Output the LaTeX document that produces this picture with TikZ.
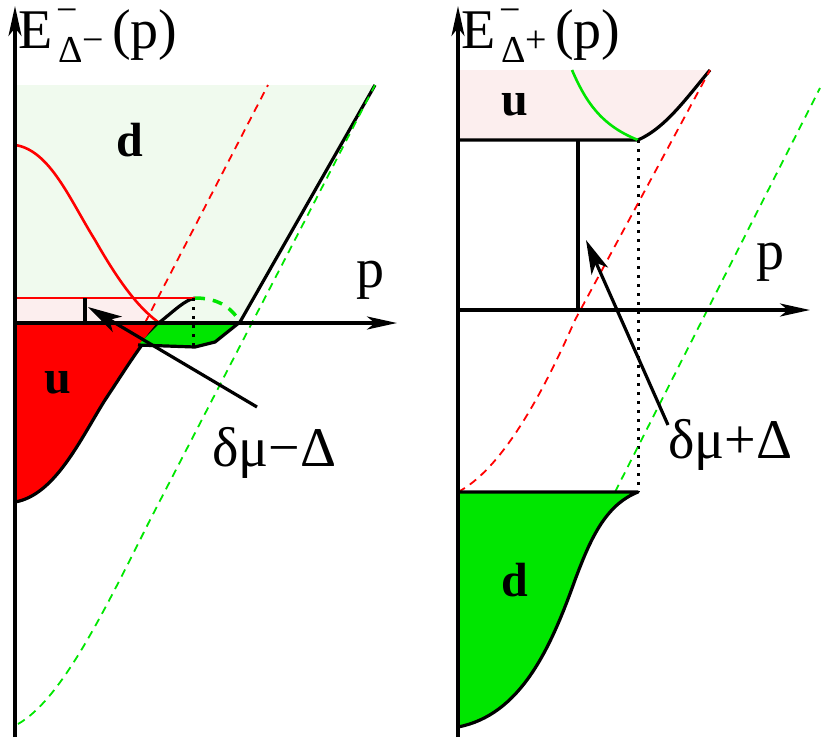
\documentclass[tikz,border=0pt]{standalone}
\usepackage{fontspec}
\setmainfont{Liberation Serif}
\usetikzlibrary{arrows.meta}
\definecolor{lgreen}{RGB}{240,250,238}
\definecolor{lpink}{RGB}{252,238,238}
\definecolor{gr}{RGB}{0,230,0}
\begin{document}
\begin{tikzpicture}[x=1pt,y=-1pt,line join=round,
  ax/.style={line width=3.5pt,-{Stealth[length=30pt,width=13pt,inset=8pt]}},
  bl/.style={line width=3.2pt},
  lab/.style={font=\rmfamily\fontsize{56}{60}\selectfont,inner sep=0},
  sub/.style={font=\rmfamily\fontsize{38}{40}\selectfont,inner sep=0},
  bold/.style={font=\rmfamily\bfseries\fontsize{48}{52}\selectfont,inner sep=0},
  pt/.style={line width=3.2pt,-{Stealth[length=34pt,width=18pt,inset=9pt]}}]
\useasboundingbox (0,0) rectangle (822,737);
% ---------- left panel
\fill[lgreen] (15,85) -- (375,85) -- (240,322) -- (15,322) -- cycle;
\fill[lpink] (15,298) rectangle (150,322);
\fill[red] (15,323) -- (160,323) .. controls (140,345) and (125,370) .. (105,400) .. controls (80,440) and (55,495) .. (15,502) -- cycle;
\draw[bl] (15,502) .. controls (55,495) and (80,440) .. (105,400) .. controls (125,370) and (140,345) .. (160,322) .. controls (175,310) and (185,300) .. (195,298);
\fill[gr] (138,345) -- (160,323) -- (240,323) -- (215,342) -- (195,347) -- cycle;
\draw[bl] (138,345) -- (195,347) -- (215,342) -- (240,322);
\draw[bl] (240,322) -- (375,85);
\draw[gr,line width=3.5pt,dash pattern=on 10pt off 8pt] (195,298) .. controls (215,298) and (230,305) .. (240,322);
\draw[red,line width=2.6pt] (15,145) .. controls (50,150) and (70,200) .. (95,240) .. controls (115,275) and (135,305) .. (158,322);
\draw[red,line width=2pt] (15,298) -- (195,298);
\draw[bl] (85,298) -- (85,322);
\draw[red,line width=1.8pt,dash pattern=on 8pt off 6pt] (132,348) -- (268,85);
\draw[gr,line width=1.8pt,dash pattern=on 8pt off 6pt] (18,724) .. controls (60,700) and (100,620) .. (150,520) -- (375,85);
\draw[line width=3pt,dash pattern=on 3pt off 6pt] (193,298) -- (193,348);
\draw[ax] (15,737) -- (15,6);
\draw[ax] (15,323) -- (397,323);
\node[bold] (dl) at (130,140) {d};
\node[bold] (ul) at (58,383) {u};
\node[lab,anchor=base west] (el) at (18,48) {E};
\node[sub,anchor=base west] (elb) at (56,22) {−};
\node[sub,anchor=base west] (els) at (58,62) {Δ};
\node[sub,anchor=base west] (elm) at (82,52) {−};
\node[lab,anchor=base west] (elp) at (112,48) {(p)};
\node[lab] (pl) at (370,280) {p};
\node[lab,anchor=west] (ml) at (212,453) {δμ−Δ};
\coordinate (at1) at (257,407);
\coordinate (ah1) at (88,307);
\draw[pt] (at1) -- (ah1);
% ---------- right panel
\fill[lpink] (458,70) -- (710,70) .. controls (685,100) and (665,128) .. (638,140) -- (458,140) -- cycle;
\draw[bl] (458,140) -- (638,140) .. controls (665,128) and (685,100) .. (710,70);
\draw[gr,line width=2.6pt] (572,70) .. controls (585,100) and (600,125) .. (638,140);
\draw[bl] (578,140) -- (578,310);
\draw[line width=3pt,dash pattern=on 3pt off 6pt] (638,140) -- (638,492);
\draw[red,line width=1.8pt,dash pattern=on 8pt off 6pt] (458,492) .. controls (500,470) and (540,400) .. (575,320) -- (710,70);
\draw[gr,line width=1.8pt,dash pattern=on 8pt off 6pt] (615,492) -- (820,88);
\fill[gr] (458,492) -- (638,492) .. controls (605,505) and (590,540) .. (575,580) .. controls (550,650) and (520,715) .. (458,727) -- cycle;
\draw[bl] (458,492) -- (638,492) .. controls (605,505) and (590,540) .. (575,580) .. controls (550,650) and (520,715) .. (458,727);
\draw[ax] (458,737) -- (458,6);
\draw[ax] (458,310) -- (810,310);
\node[bold] (ur) at (515,105) {u};
\node[bold] (dr) at (515,580) {d};
\node[lab,anchor=base west] (er) at (461,48) {E};
\node[sub,anchor=base west] (erb) at (499,22) {−};
\node[sub,anchor=base west] (ers) at (501,62) {Δ};
\node[sub,anchor=base west] (erm) at (525,52) {+};
\node[lab,anchor=base west] (erp) at (555,48) {(p)};
\node[lab] (pr) at (770,262) {p};
\node[lab,anchor=west] (mr) at (668,445) {δμ+Δ};
\coordinate (at2) at (668,425);
\coordinate (ah2) at (586,240);
\draw[pt] (at2) -- (ah2);
\end{tikzpicture}
\end{document}
